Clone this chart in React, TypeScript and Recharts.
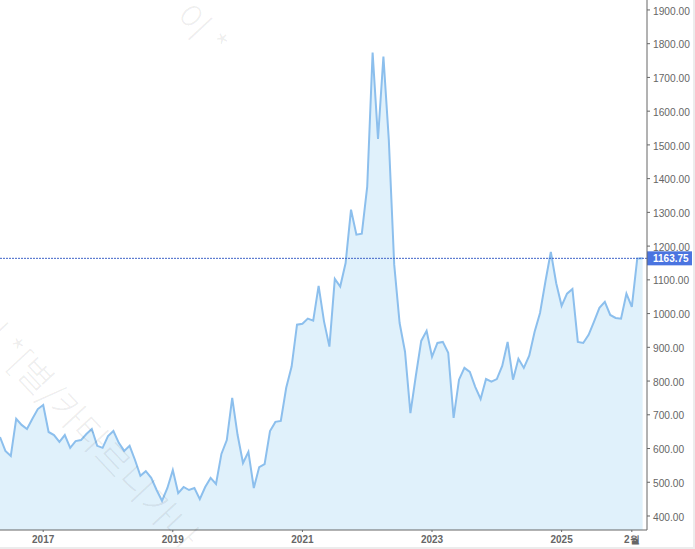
import { AreaChart, Area, XAxis, YAxis, ReferenceLine } from 'recharts';

// monthly closes, one per month, first one is 2016-09-ish at the left edge
const PRICES = [
  634, 593, 578, 688, 670, 658, 688, 717, 729, 649, 640, 620,
  640, 602, 622, 625, 643, 658, 608, 602, 637, 652, 617, 593,
  608, 566, 519, 533, 513, 477, 445, 483, 536, 468, 486, 477,
  483, 450, 486, 513, 495, 584, 625, 750, 640, 557, 590, 483,
  545, 554, 652, 679, 682, 780, 843, 967, 970, 985, 979, 1082,
  977, 902, 1103, 1080, 1150, 1308, 1234, 1237, 1376, 1774, 1518, 1762,
  1515, 1145, 972, 887, 705, 815, 919, 949, 872, 913, 916, 884,
  691, 804, 839, 827, 783, 747, 806, 798, 806, 845, 916, 804,
  866, 839, 875, 946, 1002, 1095, 1183, 1090, 1023, 1059, 1073, 916,
  913, 937, 976, 1017, 1035, 996, 987, 985, 1059, 1020, 1163, 1163.75,
];
const LAST_PRICE = 1163.75;
const X_TICKS = [8, 32, 56, 80, 104, 117];
const X_LABELS = ['2017', '2019', '2021', '2023', '2025', '2월'];
const Y_TICKS = [400, 500, 600, 700, 800, 900, 1000, 1100, 1200, 1300, 1400, 1500, 1600, 1700, 1800, 1900];

const FONT = '"Liberation Sans", Arial, sans-serif';
const AXIS = '#666666';

const data = PRICES.map((price, i) => ({ i, price }));

function PriceTag({ viewBox }: any) {
  const y = viewBox.y;
  return (
    <g>
      <rect x={647} y={y - 7} width={45} height={14} fill="#4a74e0" />
      <text x={653} y={y + 4} fontSize={10} fontWeight={700} fontFamily={FONT} fill="#ffffff">
        {LAST_PRICE.toFixed(2)}
      </text>
    </g>
  );
}

export default function App() {
  return (
    <div style={{ position: 'absolute', left: 0, top: 0, width: 695, height: 549, background: '#ececec' }}>
      <div style={{ position: 'absolute', left: 0, top: 0, width: 693, height: 547, background: '#ffffff' }} />
      <div style={{ position: 'absolute', left: 0, top: 0 }}>
        <AreaChart width={695} height={549} data={data} margin={{ top: 0, right: 0, bottom: 0, left: 0 }}>
          <XAxis
            dataKey="i"
            type="number"
            domain={[0, 119.81]}
            allowDataOverflow
            ticks={X_TICKS}
            tickFormatter={(v: number) => X_LABELS[X_TICKS.indexOf(v)]}
            height={19}
            tickSize={2}
            tickMargin={3}
            interval={0}
            stroke={AXIS}
            tick={{ fontSize: 10, fontWeight: 700, fontFamily: FONT, fill: '#666666', dy: 1 }}
          />
          <YAxis
            orientation="right"
            type="number"
            domain={[358.5, 1929.5]}
            allowDataOverflow
            ticks={Y_TICKS}
            tickFormatter={(v: number) => v.toFixed(2)}
            width={48}
            tickSize={3}
            tickMargin={3}
            interval={0}
            stroke={AXIS}
            tick={{ fontSize: 10.2, fontFamily: FONT, fill: '#666666', textAnchor: 'start', dy: 1 }}
          />
          <Area
            dataKey="price"
            type="linear"
            stroke="#8cbfed"
            strokeWidth={2}
            fill="#e0f1fb"
            fillOpacity={1}
            dot={false}
            activeDot={false}
            isAnimationActive={false}
          />
          <ReferenceLine
            y={LAST_PRICE}
            stroke="#3f63c8"
            strokeWidth={1}
            strokeDasharray="2 1"
            label={<PriceTag />}
          />
        </AreaChart>
      </div>
      <svg width={693} height={547} style={{ position: 'absolute', left: 0, top: 0, pointerEvents: 'none' }}>
        <g fontFamily='"Noto Sans CJK KR"' fontSize={36} fontWeight={300} fill="#000000" fillOpacity={0.07}>
          <text transform="translate(211,60) rotate(47)" textAnchor="end">이 *</text>
          <text transform="translate(-32,323) rotate(47)">이 *[별/카타르니가나</text>
        </g>
      </svg>
    </div>
  );
}
